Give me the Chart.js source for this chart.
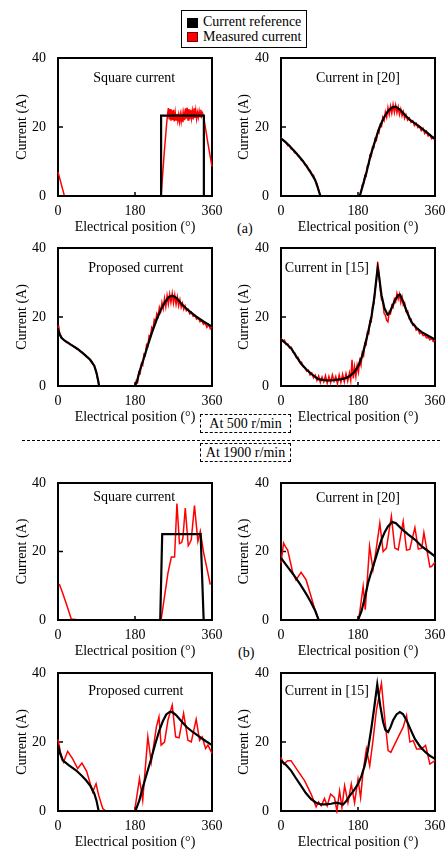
<!DOCTYPE html>
<html>
<head>
<meta charset="utf-8">
<script src="https://cdn.jsdelivr.net/npm/chart.js@4.4.1/dist/chart.umd.min.js"></script>
<style>
  body { margin: 0; background: #fff; }
  #page { position: relative; width: 447px; height: 849px; overflow: hidden; font-family: "Liberation Serif", "Times New Roman", serif; color: #000; }
  #page canvas { position: absolute; }
  .legend { position: absolute; left: 181px; top: 10px; width: 124px; height: 36px; border: 1px solid #000; font-size: 14px; }
  .legend .sw { position: absolute; left: 5px; width: 11px; height: 10px; box-sizing: border-box; }
  .legend .txt { position: absolute; left: 21px; line-height: 15px; white-space: nowrap; }
  .speed { position: absolute; left: 200px; width: 89px; height: 17px; border: 1px dashed #000; font-size: 14px; line-height: 17px; text-align: center; white-space: nowrap; }
  .sep { position: absolute; left: 22px; top: 440px; width: 418px; border-top: 1px dashed #000; }
  .tag { position: absolute; font-size: 14px; line-height: 16px; }
</style>
</head>
<body>
<div id="page">
  <div class="legend">
    <div class="sw" style="top:7px;background:#000"></div>
    <div class="txt" style="top:3px">Current reference</div>
    <div class="sw" style="top:21px;background:#f00;border:1px solid #700"></div>
    <div class="txt" style="top:18px">Measured current</div>
  </div>
  <div class="speed" style="top:414px">At 500 r/min</div>
  <div class="sep"></div>
  <div class="speed" style="top:443px">At 1900 r/min</div>
  <div class="tag" style="left:237px;top:221px">(a)</div>
  <div class="tag" style="left:238px;top:645px">(b)</div>
</div>
<script>
const xTicks = [0, 180, 360];
const yTicks = [0, 20, 40];

// 500 r/min, square current
const sq500Ref = [[0, 0], [241, 0], [241, 23.3], [341, 23.3], [341, 0], [360, 0]];
const sq500Meas = [[0, 7], [15, 0], [241, 0], [248, 12], [254, 21], [256, 23.5], [258, 25.5], [260, 22.2], [262, 25.2],
  [264, 21.8], [266, 24.8], [268, 22.0], [270, 25.0], [272, 21.6], [274, 24.2], [276, 22.0], [278, 23.8], [280, 21.8],
  [282, 23.5], [284, 21.5], [286, 23.6], [288, 21.6], [290, 23.8], [292, 21.4], [294, 24.0], [296, 22.0], [298, 25.4],
  [300, 22.4], [302, 25.6], [304, 22.0], [306, 25.2], [308, 22.3], [310, 25.0], [312, 22.6], [314, 24.6], [316, 22.2],
  [318, 25.4], [320, 22.6], [322, 24.8], [324, 22.4], [326, 24.2], [328, 22.8], [330, 24.6], [332, 23.0], [334, 25.0],
  [336, 23.2], [338, 24.0], [341, 22.6], [350, 15.6], [360, 8.5]];

// 500 r/min, current in [20]
const c20_500Ref = [[0, 16.7], [10, 15.7], [20, 14.5], [30, 13.2], [40, 11.8], [50, 10.3], [60, 8.6], [70, 6.7], [80, 4.6],
  [86, 2.4], [92, 0], [184, 0], [190, 2.5], [200, 7], [210, 12], [220, 16], [230, 19.8], [240, 22.6], [250, 24.6],
  [260, 25.7], [268, 25.9], [280, 24.8], [290, 23.4], [300, 22.2], [320, 20.5], [340, 18.5], [360, 16.5]];
const c20_500Meas = [[0, 16.9], [4, 16.2], [8, 15.8], [12, 15.5], [16, 14.6], [20, 14.7], [24, 13.6], [28, 13.4], [32, 12.5],
  [36, 12.4], [40, 11.5], [44, 11.2], [48, 10.3], [52, 10.1], [56, 9.0], [60, 8.9], [64, 7.8], [68, 7.4], [72, 6.3],
  [76, 6.0], [80, 4.5], [84, 3.6], [88, 1.8], [92, 0], [184, 0], [187, 1.0], [190, 3.2], [193, 3.5], [196, 6.0], [199, 5.8],
  [202, 8.8], [205, 9.0], [208, 11.8], [211, 11.5], [214, 14.2], [217, 14.0], [220, 16.6], [223, 16.1], [226, 18.8],
  [229, 18.3], [232, 20.7], [235, 20.2], [238, 22.8], [241, 21.9], [244, 24.3], [247, 22.8], [250, 25.6], [253, 23.6],
  [256, 26.0], [259, 24.0], [262, 26.5], [265, 24.2], [268, 26.3], [271, 24.1], [274, 25.8], [277, 23.6], [280, 25.2],
  [283, 23.2], [286, 24.4], [289, 22.5], [292, 23.6], [296, 22.0], [300, 22.6], [304, 21.3], [308, 21.8], [312, 20.4],
  [316, 21.1], [320, 19.8], [324, 20.1], [328, 18.9], [332, 19.6], [336, 18.1], [340, 18.8], [344, 17.4], [348, 17.8],
  [352, 16.6], [356, 17.0], [360, 16.3]];

// 500 r/min, proposed current
const prop500Ref = [[0, 16.8], [3, 15.2], [8, 14], [15, 13.2], [30, 12], [45, 10.8], [60, 9.3], [75, 7.6], [85, 5.8], [90, 3.8],
  [94, 1.5], [96, 0], [180, 0], [185, 1.5], [190, 4], [200, 7.8], [210, 11.8], [220, 15.6], [230, 19], [240, 22], [250, 24.3],
  [260, 25.9], [268, 26.2], [278, 25.4], [290, 23.6], [305, 21.9], [320, 20.4], [340, 18.7], [360, 17.2]];
const prop500Meas = [[0, 17.5], [2, 16.2], [5, 15.0], [8, 14.2], [12, 13.5], [16, 13.2], [20, 12.6], [24, 12.6], [28, 12.0],
  [32, 11.9], [36, 11.4], [40, 11.3], [44, 10.7], [48, 10.6], [52, 10.0], [56, 9.9], [60, 9.2], [64, 9.0], [68, 8.5],
  [72, 8.1], [76, 7.6], [80, 7.0], [84, 6.0], [88, 4.6], [91, 3.0], [94, 1.2], [96, 0], [180, 0], [183, 1.5], [186, 1.0],
  [189, 4.0], [192, 3.6], [195, 6.5], [198, 6.0], [201, 9.2], [204, 8.8], [207, 12.0], [210, 11.5], [213, 14.6], [216, 14.2],
  [219, 17.0], [222, 16.4], [225, 19.2], [228, 18.5], [231, 21.0], [234, 20.2], [237, 22.8], [240, 21.6], [243, 24.2],
  [246, 22.4], [249, 25.4], [252, 23.0], [255, 26.2], [258, 23.8], [261, 26.6], [264, 24.2], [267, 26.8], [270, 24.0],
  [273, 26.4], [276, 23.6], [279, 25.8], [282, 23.2], [285, 25.0], [288, 22.8], [291, 24.0], [294, 22.2], [297, 23.2],
  [300, 21.8], [304, 22.3], [308, 20.9], [312, 21.4], [316, 20.2], [320, 20.6], [324, 19.4], [328, 19.7], [332, 18.6],
  [336, 19.0], [340, 17.9], [344, 18.3], [348, 17.0], [352, 17.8], [356, 16.6], [360, 17.2]];

// 500 r/min, current in [15]
const c15_500Ref = [[0, 13.5], [12, 12.3], [25, 10.7], [36, 8.5], [48, 6.3], [60, 4.7], [72, 3.4], [87, 2], [100, 1.7],
  [110, 1.6], [125, 1.7], [142, 2], [152, 2.3], [161, 2.9], [172, 4.1], [181, 5.9], [190, 8.8], [196, 11.7], [204, 15.8],
  [212, 20.5], [218, 25.5], [223.5, 31.7], [226, 34.1], [229, 32], [235, 26.3], [242, 22.5], [249, 20.7], [253, 21],
  [258.7, 22.6], [266, 24.8], [274, 26.3], [278, 26.5], [286, 24.4], [295, 21.3], [305, 18.5], [317, 16.8], [329, 15.6],
  [345, 14.5], [360, 13.5]];
const c15_500Meas = [[0, 13.8], [4, 13.0], [8, 13.3], [12, 12.0], [16, 12.2], [20, 11.0], [24, 11.2], [28, 9.8], [32, 9.6],
  [36, 8.2], [40, 8.3], [44, 6.8], [48, 6.9], [52, 5.6], [56, 5.3], [60, 4.3], [64, 4.6], [68, 3.2], [72, 3.8], [76, 2.4],
  [80, 3.2], [84, 1.6], [88, 2.9], [92, 1.0], [96, 2.6], [100, 1.2], [104, 3.0], [108, 0.8], [112, 2.8], [116, 1.0],
  [120, 3.2], [124, 1.4], [128, 2.8], [132, 0.6], [136, 3.2], [140, 1.0], [144, 3.4], [148, 1.2], [152, 3.6], [156, 1.4],
  [160, 3.8], [163, 1.6], [166, 7.6], [169, 2.2], [172, 5.6], [175, 2.8], [178, 6.0], [181, 4.0], [184, 7.4], [187, 6.0],
  [190, 9.6], [193, 8.8], [196, 12.4], [199, 12.0], [202, 15.6], [205, 15.2], [208, 18.8], [211, 18.6], [214, 23.0],
  [217, 23.8], [220, 28.0], [223, 30.2], [226, 36.0], [229, 33.0], [232, 28.0], [235, 25.0], [238, 24.5], [241, 21.0],
  [244, 20.5], [247, 19.0], [250, 18.6], [253, 21.5], [256, 21.0], [259, 23.4], [262, 22.8], [265, 25.2], [268, 24.4],
  [271, 26.8], [274, 25.2], [277, 26.6], [280, 24.2], [283, 25.8], [286, 23.4], [289, 24.0], [292, 21.6], [296, 21.8],
  [300, 19.4], [304, 19.4], [308, 17.6], [312, 17.8], [316, 16.2], [320, 16.6], [324, 15.2], [328, 15.6], [332, 14.6],
  [336, 14.8], [340, 14.0], [344, 14.2], [348, 13.4], [352, 13.8], [356, 12.9], [360, 13.4]];

// 1900 r/min, square current
const sq1900Ref = [[0, 0], [239, 0], [243.6, 25.1], [333.4, 25.1], [340.5, 0], [360, 0]];
const sq1900Meas = [[3, 10.5], [10, 8.2], [20, 4.5], [31, 0.3], [50, 0], [241, 0], [257, 13.7], [265, 18.4], [272.5, 18.4],
  [278, 34], [284, 22.3], [289, 22.6], [292, 24], [297.5, 32.7], [304.5, 21.7], [308, 22.4], [311.6, 23.5], [319, 33.4],
  [327, 23], [330, 24.5], [332.6, 25.9], [340.5, 19.6], [350.5, 13.7], [356, 10.3]];

// 1900 r/min, current in [20]
const c20_1900Ref = [[0, 18.1], [15, 15.6], [30, 13.1], [45, 10.4], [60, 7.4], [70, 5.2], [80, 2.7], [88, 0], [180, 0],
  [188, 2.5], [196, 6.5], [203.5, 10.8], [211, 14], [219, 17.1], [227, 20.4], [235, 23.5], [243, 25.8], [250, 27.3],
  [260, 28.6], [268, 28.3], [282, 26.6], [297, 25], [313, 23.5], [330, 21.4], [345, 20], [360, 18.6]];
const c20_1900Meas = [[0, 16.6], [6, 22.5], [10, 21.5], [15.6, 20.4], [27, 14.1], [35, 11.7], [47, 13.9], [52, 13],
  [58.7, 11.7], [70, 7], [78, 3.5], [88, 0], [181.6, 0], [192, 9.8], [197, 3], [207, 21.5], [215, 14.7], [220.7, 19.1],
  [231, 28.3], [238.7, 20], [246.5, 21], [258, 30.3], [266, 21], [274, 20.5], [285.6, 28.8], [293.5, 20.4], [301, 20.6],
  [313, 27], [321, 20.7], [329, 21], [334, 25.5], [348, 15.5], [352, 15.6], [360, 16.9]];

// 1900 r/min, proposed current
const prop1900Ref = [[0, 19.1], [4, 17], [11, 14.7], [25, 13.3], [42, 11.8], [55, 10.3], [65.6, 8.9], [76, 7.2], [85, 5],
  [90, 3], [95, 0], [181, 0], [190, 3], [198.6, 7], [208, 11], [218, 15.2], [227, 19.3], [237, 23.4], [245, 26], [253, 28],
  [262, 28.8], [268, 28.6], [276, 27.8], [288, 26.1], [300, 24.4], [315, 22.9], [331, 21.5], [345, 20.3], [360, 19.1]];
const prop1900Meas = [[0, 20.8], [5.5, 17.1], [13, 14.2], [22.6, 17.3], [34, 15.2], [46, 12.3], [56, 13.9], [67, 11.5],
  [81, 5.5], [89, 7.9], [95, 4.6], [104.6, 0.7], [112, 0], [179, 0], [190.5, 9.4], [198, 3.1], [210, 21.5], [218, 14.2],
  [230, 24.4], [236, 27.3], [241, 19.1], [249, 20], [257, 26.3], [267, 30.7], [275, 21.5], [283, 21.2], [293.6, 28.3],
  [303.8, 20.5], [311.6, 20], [323, 26.6], [331, 20.5], [337, 21.5], [345, 18.1], [350.5, 19.1], [360, 16.7]];

// 1900 r/min, current in [15]
const c15_1900Ref = [[0, 14.6], [12, 13.3], [23.5, 11.7], [35, 9.5], [47, 7.3], [58, 5.2], [70.4, 3.4], [82, 2.4], [94, 1.9],
  [105, 1.9], [117, 2.1], [129, 2.4], [137, 2.2], [145, 1.9], [152, 2.8], [160.4, 4.4], [170, 5.9], [180, 7.8], [188, 10.1],
  [195.6, 13.1], [203, 17.5], [211, 23.8], [218, 30], [225, 36.7], [232, 30.5], [238.7, 25.8], [244, 23.5], [250.4, 22.9],
  [256, 24.3], [262, 26.3], [270, 28], [277.8, 28.7], [285, 28.1], [293.5, 26.3], [303, 23.6], [313, 20.9], [325, 18.7],
  [336.5, 17.2], [348, 16], [360, 15.1]];
const c15_1900Meas = [[0, 15.6], [6.3, 13.6], [15.6, 14.6], [23.5, 14.6], [39, 11.7], [55, 8.8], [70.4, 4.9], [82, 1.2],
  [87.7, 2.6], [94, 1.5], [101.7, 3.6], [108, 1.5], [116, 4.9], [125, 3.9], [130.7, 0], [137, 5.8], [142.4, 1], [148.7, 7.3],
  [156.5, 2.4], [164.3, 7.8], [172, 2.4], [180, 9.2], [186, 3.9], [191.7, 11.2], [199.6, 18], [207.4, 13.1], [215, 20.4],
  [223, 29.2], [234.8, 37], [242.6, 26.8], [250.4, 17.5], [256.7, 17], [274, 21.4], [285.6, 24.3], [293.5, 27.7],
  [301.3, 20], [309, 20.4], [317, 18], [328.7, 18], [338, 19], [348, 13.6], [360, 14.6]];

const FONT = { family: '"Liberation Serif", "Times New Roman", serif', size: 14 };

// plot frame and inward ticks go under the curves; the caption goes on top
const framePlugin = {
  id: 'frame',
  beforeDatasetsDraw(chart) {
    const { ctx, chartArea: a, scales: { x, y } } = chart;
    ctx.save();
    ctx.strokeStyle = '#000';
    ctx.lineWidth = 2;
    ctx.strokeRect(a.left, a.top, a.right - a.left, a.bottom - a.top);
    ctx.lineWidth = 1.5;
    ctx.beginPath();
    const bx = x.getPixelForValue(180);
    ctx.moveTo(bx, a.bottom);
    ctx.lineTo(bx, a.bottom - 4);
    const ly = y.getPixelForValue(20);
    ctx.moveTo(a.left, ly);
    ctx.lineTo(a.left + 5, ly);
    ctx.stroke();
    ctx.restore();
  },
  afterDatasetsDraw(chart, args, opts) {
    const { ctx, scales: { x, y } } = chart;
    ctx.save();
    ctx.fillStyle = '#000';
    ctx.font = '14px "Liberation Serif", "Times New Roman", serif';
    ctx.textBaseline = 'middle';
    ctx.textAlign = opts.align;
    ctx.fillText(opts.text, x.getPixelForValue(opts.at[0]), y.getPixelForValue(opts.at[1]));
    ctx.restore();
  }
};

const panels = [
  { left: 0, top: 58, h: 138, caption: 'Square current', at: [178, 34.2], align: 'center', ref: sq500Ref, meas: sq500Meas },
  { left: 222, top: 58, h: 138, caption: 'Current in [20]', at: [180, 34.2], align: 'center', ref: c20_500Ref, meas: c20_500Meas },
  { left: 0, top: 248, h: 138, caption: 'Proposed current', at: [182, 34.2], align: 'center', ref: prop500Ref, meas: prop500Meas },
  { left: 222, top: 248, h: 138, caption: 'Current in [15]', at: [9, 34.2], align: 'left', ref: c15_500Ref, meas: c15_500Meas },
  { left: 0, top: 483, h: 137, caption: 'Square current', at: [178, 35.8], align: 'center', ref: sq1900Ref, meas: sq1900Meas },
  { left: 222, top: 483, h: 137, caption: 'Current in [20]', at: [180, 35.6], align: 'center', ref: c20_1900Ref, meas: c20_1900Meas },
  { left: 0, top: 673, h: 138, caption: 'Proposed current', at: [182, 34.8], align: 'center', ref: prop1900Ref, meas: prop1900Meas },
  { left: 222, top: 673, h: 138, caption: 'Current in [15]', at: [9, 34.8], align: 'left', ref: c15_1900Ref, meas: c15_1900Meas }
];

const page = document.getElementById('page');

panels.forEach(p => {
  const isLeft = p.left === 0;
  const width = isLeft ? 222 : 225;
  const axisW = isLeft ? 58 : 59;
  const padRight = isLeft ? 10 : 12;
  const padTop = 12;
  const axisH = 40;
  const canvas = document.createElement('canvas');
  canvas.width = width;
  canvas.height = padTop + p.h + axisH;
  canvas.style.left = p.left + 'px';
  canvas.style.top = (p.top - padTop) + 'px';
  page.appendChild(canvas);

  new Chart(canvas, {
    type: 'line',
    data: {
      datasets: [
        { label: 'Current reference', data: p.ref, borderColor: '#000', borderWidth: 2.2, pointRadius: 0, tension: 0, clip: 3 },
        { label: 'Measured current', data: p.meas, borderColor: '#f00', borderWidth: 1.5, pointRadius: 0, tension: 0, clip: 3 }
      ]
    },
    options: {
      responsive: false,
      devicePixelRatio: 1,
      animation: false,
      layout: { padding: { top: padTop, right: padRight, left: 0, bottom: 0 } },
      plugins: {
        legend: { display: false },
        tooltip: { enabled: false },
        frame: { text: p.caption, at: p.at, align: p.align }
      },
      scales: {
        x: {
          type: 'linear', min: 0, max: 360,
          afterBuildTicks: s => { s.ticks = xTicks.map(v => ({ value: v })); },
          afterFit: s => { s.height = axisH; s.paddingLeft = 0; s.paddingRight = 0; },
          grid: { display: false, drawTicks: false },
          border: { display: false },
          ticks: { color: '#000', font: FONT, padding: 7, maxRotation: 0, autoSkip: false },
          title: { display: true, text: 'Electrical position (°)', color: '#000', font: FONT, padding: { top: 0, bottom: 0 } }
        },
        y: {
          type: 'linear', min: 0, max: 40,
          afterBuildTicks: s => { s.ticks = yTicks.map(v => ({ value: v })); },
          afterFit: s => { s.width = axisW; s.paddingTop = 0; s.paddingBottom = 0; },
          grid: { display: false, drawTicks: false },
          border: { display: false },
          ticks: { color: '#000', font: FONT, padding: 12 },
          title: { display: true, text: 'Current (A)', color: '#000', font: FONT, padding: { top: 14, bottom: 0 } }
        }
      }
    },
    plugins: [framePlugin]
  });
});
</script>
</body>
</html>
